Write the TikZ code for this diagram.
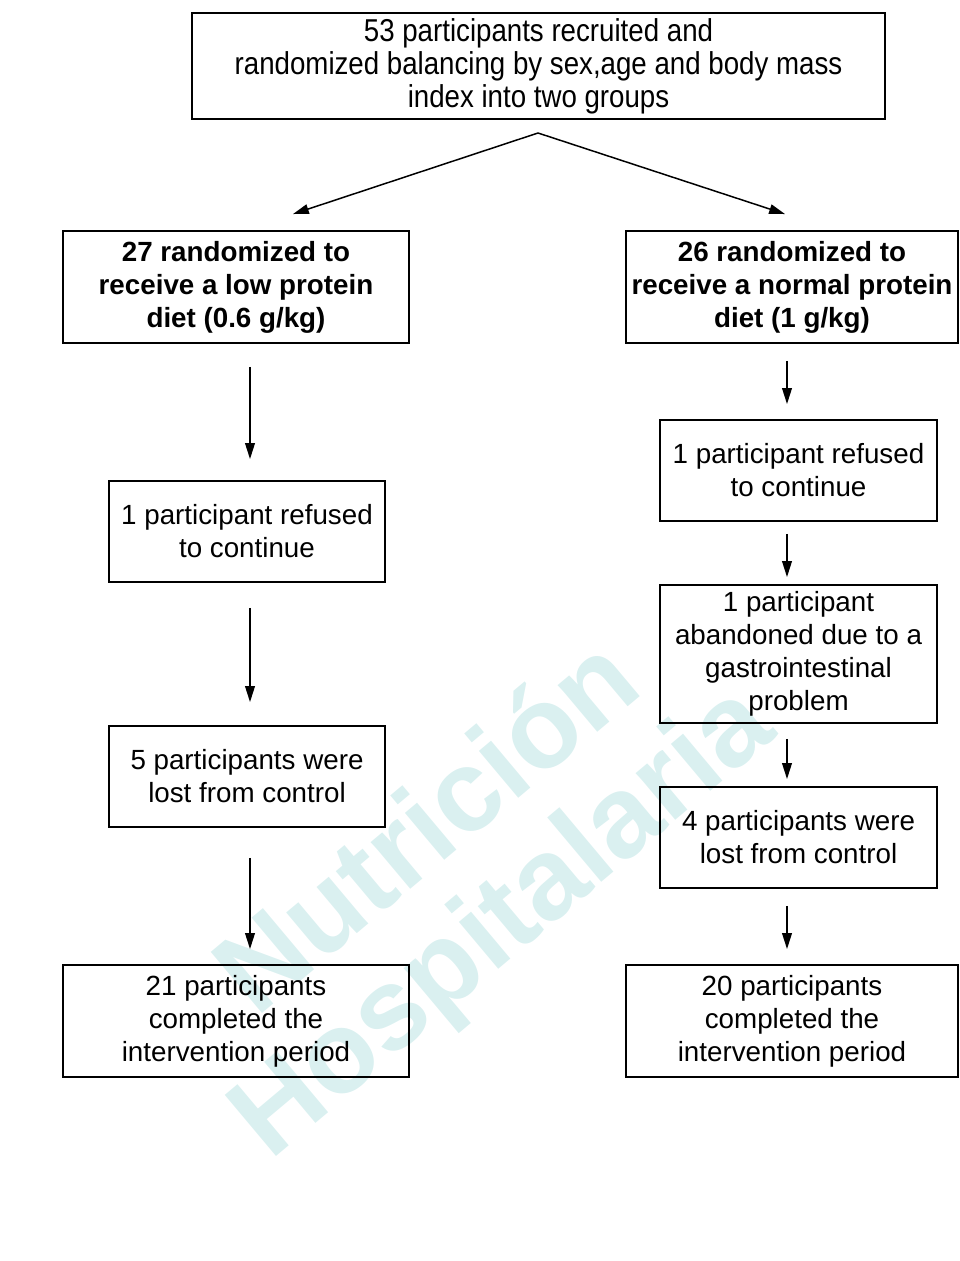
\documentclass[tikz,border=0pt]{standalone}
\usepackage{fontspec}
\setmainfont{Liberation Sans}
\newfontfamily\narrowfont[FakeStretch=0.875]{Liberation Sans}
\usetikzlibrary{arrows.meta}
\definecolor{wmark}{RGB}{218,240,240}
\tikzset{
  box/.style={draw, line width=1.1pt, align=center, inner sep=0pt, font=\fontsize{15.8}{18.8}\selectfont},
  boldbox/.style={box, font=\fontsize{15.8}{18.8}\selectfont\bfseries},
  arr/.style={draw, line width=0.85pt, -{Triangle[length=9pt,width=5.5pt]}},
  mark text/.style={rotate=40, text=wmark, font=\fontsize{66}{66}\selectfont\bfseries}
}
\begin{document}
\begin{tikzpicture}[x=0.02cm, y=-0.02cm]
\useasboundingbox (0,0) rectangle (960,1261);

% watermark
\node[mark text] (nutri) at (424,823) {Nutrición};
\node[mark text] (hosp) at (505,925) {Hospitalaria};

\node[box, minimum width=13.86cm, minimum height=2.12cm, font=\narrowfont\fontsize{18}{18.8}\selectfont] (top) at (538.5,66) {53 participants recruited and\\randomized balancing by sex,age and body mass\\index into two groups};

\node[boldbox, minimum width=6.92cm, minimum height=2.24cm] (l1) at (236,287) {27 randomized to\\receive a low protein\\diet (0.6 g/kg)};
\node[box, minimum width=5.52cm, minimum height=2.02cm] (l2) at (247,531.5) {1 participant refused\\to continue};
\node[box, minimum width=5.52cm, minimum height=2.02cm] (l3) at (247,776.5) {5 participants were\\lost from control};
\node[box, minimum width=6.92cm, minimum height=2.24cm] (l4) at (236,1021) {21 participants\\completed the\\intervention period};

\node[boldbox, minimum width=6.64cm, minimum height=2.24cm] (r1) at (792,287) {26 randomized to\\receive a normal protein\\diet (1 g/kg)};
\node[box, minimum width=5.54cm, minimum height=2.02cm] (r2) at (798.5,470.5) {1 participant refused\\to continue};
\node[box, minimum width=5.54cm, minimum height=2.76cm] (r3) at (798.5,654) {1 participant\\abandoned due to a\\gastrointestinal\\problem};
\node[box, minimum width=5.54cm, minimum height=2.02cm] (r4) at (798.5,837.5) {4 participants were\\lost from control};
\node[box, minimum width=6.64cm, minimum height=2.24cm] (r5) at (792,1021) {20 participants\\completed the\\intervention period};

\coordinate (split) at (538,133);
\coordinate (lx) at (250,0);
\coordinate (rx) at (787,0);

\path[arr] (split) -- ([shift={(57,-16)}]l1.north);
\path[arr] (split) -- ([shift={(-7,-16)}]r1.north);

\path[arr, shorten <=0.46cm, shorten >=0.42cm] (l1.south -| lx) -- (l2.north -| lx);
\path[arr, shorten <=0.5cm, shorten >=0.46cm] (l2.south -| lx) -- (l3.north -| lx);
\path[arr, shorten <=0.6cm, shorten >=0.3cm] (l3.south -| lx) -- (l4.north -| lx);

\path[arr, shorten <=0.34cm, shorten >=0.3cm] (r1.south -| rx) -- (r2.north -| rx);
\path[arr, shorten <=0.24cm, shorten >=0.14cm] (r2.south -| rx) -- (r3.north -| rx);
\path[arr, shorten <=0.3cm, shorten >=0.14cm] (r3.south -| rx) -- (r4.north -| rx);
\path[arr, shorten <=0.34cm, shorten >=0.3cm] (r4.south -| rx) -- (r5.north -| rx);
\end{tikzpicture}
\end{document}
